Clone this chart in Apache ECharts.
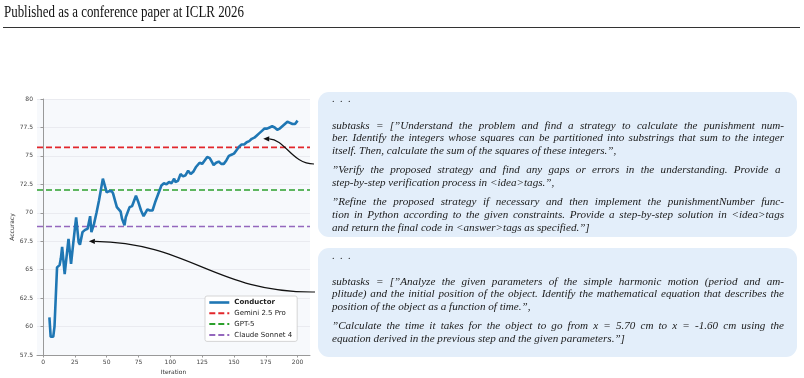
<!DOCTYPE html>
<html>
<head>
<meta charset="utf-8">
<script src="https://cdn.jsdelivr.net/npm/echarts@6/dist/echarts.min.js"></script>
<style>
body{margin:0;background:#fff;}
#page{position:relative;width:804px;height:378px;overflow:hidden;}
#chart{position:absolute;left:0;top:0;width:804px;height:378px;}
.head{position:absolute;left:4px;top:2px;font-family:"Liberation Serif",serif;font-size:17px;color:#111;white-space:nowrap;transform-origin:0 0;}
.rule{position:absolute;left:3px;top:27px;width:797px;height:1px;background:#333;}
.box{position:absolute;left:318px;width:479px;background:#e3eefa;border-radius:11px;font-family:"Liberation Serif",serif;font-style:italic;font-size:11.1px;color:#1a1a1a;box-sizing:border-box;padding:0 13px 0 14px;}
.ln{height:12.7px;line-height:12.7px;white-space:nowrap;}
.ln span{display:inline-block;transform-origin:0 50%;}
.gap{height:6.6px;}
.dots{height:12.7px;line-height:10px;letter-spacing:1.5px;font-style:normal;font-size:10px;}
</style>
</head>
<body>
<div id="page">
  <div id="chart"></div>
  <div class="head" id="head">Published as a conference paper at ICLR 2026</div>
  <div class="rule"></div>
  <div class="box" id="box1" style="top:92px;height:145px;padding-top:2px;"></div>
  <div class="box" id="box2" style="top:248px;height:109px;padding-top:3px;"></div>
</div>
<script>
// Conductor accuracy per iteration
var iterations = [5,6,8,9,11,13,14,15,17,20,22,24,26,28,29,31,33,35,37,38,40,42,44,47,50,52,54,55,57,58,61,62,64,65,68,70,73,75,77,79,82,84,86,88,91,93,95,97,99,101,103,104,106,108,110,112,114,116,118,120,123,125,127,129,131,133,134,136,138,140,142,144,146,148,150,152,154,156,158,160,162,164,166,168,170,172,174,176,178,180,182,184,186,188,190,192,194,196,198,200];
var accuracy = [60.8,59.1,59.1,60.0,65.2,65.4,66.0,67.0,64.6,67.7,65.5,67.6,69.6,67.4,67.2,68.3,68.5,68.6,69.7,68.3,69.0,70.0,71.1,73.0,71.8,71.9,71.9,71.7,70.9,70.5,70.1,69.5,68.9,69.6,70.5,70.6,71.5,70.9,70.2,69.7,70.3,70.2,70.2,70.9,71.8,72.4,72.6,72.5,72.7,72.6,73.0,72.7,72.8,73.4,73.2,73.3,73.7,73.4,73.6,74.0,74.4,74.3,74.6,74.9,74.8,74.4,74.2,74.4,74.5,74.3,74.3,74.6,75.0,75.1,75.2,75.5,75.8,76.0,76.0,76.2,76.3,76.5,76.6,76.8,77.0,77.2,77.4,77.4,77.5,77.6,77.5,77.3,77.4,77.6,77.8,78.0,77.9,77.8,77.8,78.1];

// single-run baselines
var baselineNames = ['Gemini 2.5 Pro','GPT-5','Claude Sonnet 4'];
var baselineValues = [75.75, 72.0, 68.8];
var baselineColors = ['#e2262b','#2ca02c','#9467bd'];

var xTicks = [0,25,50,75,100,125,150,175,200];
var yTicks = [57.5,60,62.5,65,67.5,70,72.5,75,77.5,80];

// points the two arrows point at
var arrowTargets = [[36, 67.5],[173, 76.5]];

var box1Lines = [
  ['subtasks = [”Understand the problem and find a strategy to calculate the punishment num-',
   'ber. Identify the integers whose squares can be partitioned into substrings that sum to the integer',
   'itself. Then, calculate the sum of the squares of these integers.”,'],
  ['”Verify the proposed strategy and find any gaps or errors in the understanding.  Provide a',
   'step-by-step verification process in <idea>tags.”,'],
  ['”Refine the proposed strategy if necessary and then implement the punishmentNumber func-',
   'tion in Python according to the given constraints. Provide a step-by-step solution in <idea>tags',
   'and return the final code in <answer>tags as specified.”]']
];
var box2Lines = [
  ['subtasks = [”Analyze the given parameters of the simple harmonic motion (period and am-',
   'plitude) and the initial position of the object. Identify the mathematical equation that describes the',
   'position of the object as a function of time.”,'],
  ['”Calculate the time it takes for the object to go from x = 5.70 cm to x = -1.60 cm using the',
   'equation derived in the previous step and the given parameters.”]']
];

var xMin = -4.75, xMax = 209.75;

function fillBox(el, paras, dotGap) {
  var d = document.createElement('div');
  d.className = 'dots';
  d.textContent = '. . .';
  el.appendChild(d);
  var g = document.createElement('div');
  g.style.height = dotGap + 'px';
  el.appendChild(g);
  paras.forEach(function (p, pi) {
    if (pi > 0) {
      var gap = document.createElement('div');
      gap.className = 'gap';
      el.appendChild(gap);
    }
    p.forEach(function (t, li) {
      var ln = document.createElement('div');
      ln.className = 'ln';
      var s = document.createElement('span');
      s.textContent = t;
      ln.appendChild(s);
      ln.dataset.just = li < p.length - 1 ? '1' : '0';
      el.appendChild(ln);
    });
  });
}
fillBox(document.getElementById('box1'), box1Lines, 12);
fillBox(document.getElementById('box2'), box2Lines, 11);

function justify() {
  var W = 452;
  document.querySelectorAll('.ln').forEach(function (ln) {
    var s = ln.firstChild;
    var w = s.getBoundingClientRect().width;
    if (ln.dataset.just === '1') {
      var n = (s.textContent.match(/ /g) || []).length;
      if (w < W) s.style.wordSpacing = ((W - w) / n) + 'px';
      else s.style.transform = 'scaleX(' + (W / w) + ')';
    } else if (w > W) {
      s.style.transform = 'scaleX(' + (W / w) + ')';
    }
  });
  var h = document.getElementById('head');
  h.style.transform = 'scaleX(' + (240 / h.getBoundingClientRect().width) + ')';
}

var chart = echarts.init(document.getElementById('chart'), null, {renderer: 'canvas'});

var series = [{
  name: 'Conductor',
  type: 'line',
  data: iterations.map(function (x, i) { return [x, accuracy[i]]; }),
  symbol: 'none',
  z: 5,
  lineStyle: {color: '#1f77b4', width: 2.6},
  itemStyle: {color: '#1f77b4'}
}];
baselineNames.forEach(function (n, i) {
  series.push({
    name: n,
    type: 'line',
    data: [[xMin, baselineValues[i]], [xMax, baselineValues[i]]],
    symbol: 'none',
    z: 3,
    lineStyle: {color: baselineColors[i], width: 1.6, type: [6, 3]},
    itemStyle: {color: baselineColors[i]}
  });
});

var option = {
  animation: false,
  textStyle: {fontFamily: 'DejaVu Sans'},
  grid: {left: 37, top: 99, width: 273, height: 256, show: true,
         backgroundColor: '#f7f9fc', borderWidth: 0, outerBoundsMode: 'none'},
  legend: {
    orient: 'vertical', left: 205, top: 296,
    itemWidth: 20, itemHeight: 8, itemGap: 3.8,
    padding: [3, 5, 3, 3],
    backgroundColor: '#ffffff', borderColor: '#cccccc', borderWidth: 0.8, borderRadius: 2,
    itemStyle: {opacity: 0},
    textStyle: {fontSize: 7, color: '#222'},
    data: [{name: 'Conductor', textStyle: {fontWeight: 'bold'}, lineStyle: {width: 2.6}}]
      .concat(baselineNames.map(function (n) { return {name: n}; }))
  },
  xAxis: {
    type: 'value', min: xMin, max: xMax,
    name: 'Iteration', nameLocation: 'middle', nameGap: 13,
    nameTextStyle: {fontSize: 6, color: '#333'},
    axisLine: {lineStyle: {color: '#999', width: 1}},
    axisTick: {customValues: xTicks, length: 2.5, lineStyle: {color: '#999'}},
    axisLabel: {customValues: xTicks, fontSize: 6, color: '#444', margin: 4},
    splitLine: {show: false}
  },
  yAxis: {
    type: 'value', min: yTicks[0], max: yTicks[yTicks.length - 1], interval: 2.5,
    name: 'Accuracy', nameLocation: 'middle', nameGap: 22, nameRotate: 90,
    nameTextStyle: {fontSize: 6, color: '#333'},
    axisLine: {show: true, lineStyle: {color: '#999', width: 1}},
    axisTick: {show: true, length: 2.5, lineStyle: {color: '#999'}},
    axisLabel: {fontSize: 6, color: '#444', margin: 4},
    splitLine: {lineStyle: {color: '#e6e7ec', width: 0.8}}
  },
  series: series
};
chart.setOption(option);

// arrows from the text boxes to the curve
function arrowGraphic(tip, c1, c2, tail) {
  var dx = tip[0] - c1[0], dy = tip[1] - c1[1];
  var len = Math.sqrt(dx * dx + dy * dy);
  var ux = dx / len, uy = dy / len;
  var hl = 6, hw = 2.6;
  var bx = tip[0] - ux * hl, by = tip[1] - uy * hl;
  return [{
    type: 'bezierCurve', z: 100,
    shape: {x1: bx, y1: by, cpx1: c1[0], cpy1: c1[1], cpx2: c2[0], cpy2: c2[1], x2: tail[0], y2: tail[1]},
    style: {stroke: '#111', lineWidth: 1.2, fill: null}
  }, {
    type: 'polygon', z: 100,
    shape: {points: [tip, [bx - uy * hw, by + ux * hw], [bx + uy * hw, by - ux * hw]]},
    style: {fill: '#111'}
  }];
}
var t1 = chart.convertToPixel({gridIndex: 0}, arrowTargets[0]);
var t2 = chart.convertToPixel({gridIndex: 0}, arrowTargets[1]);
var graphics = arrowGraphic(t1, [t1[0] + 102, t1[1] + 1.5], [215, 293], [315, 292])
  .concat(arrowGraphic(t2, [t2[0] + 22, t2[1] + 0.5], [292, 164], [314, 164]));
chart.setOption({graphic: graphics});

if (document.fonts && document.fonts.ready) document.fonts.ready.then(justify); else justify();
</script>
</body>
</html>
